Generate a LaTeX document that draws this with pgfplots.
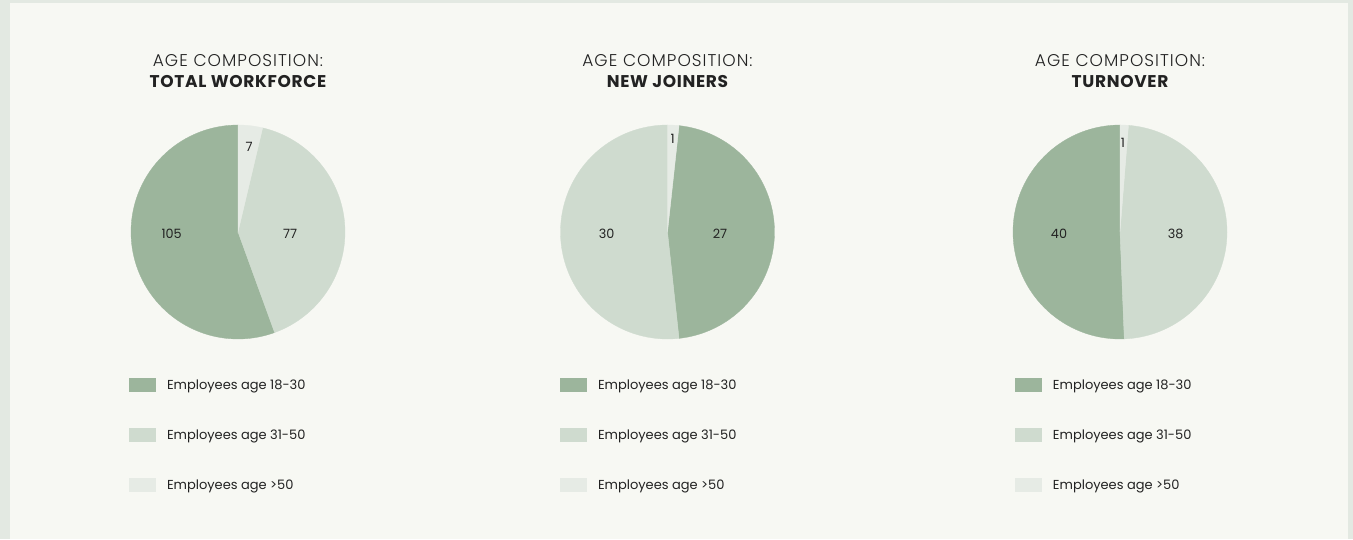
\documentclass[border=0pt]{standalone}
\usepackage{pgfplots}
\pgfplotsset{compat=1.18}
\usepackage{fontspec}
\setmainfont{Poppins}
\newfontfamily\lightfont{Poppins}[UprightFont=* Light, LetterSpace=6]
\newfontfamily\titlebold{Poppins}[UprightFont=* Bold, LetterSpace=4]
\definecolor{cA}{HTML}{9CB59C}
\definecolor{cB}{HTML}{CFDBCF}
\definecolor{cC}{HTML}{E6EBE5}
\definecolor{bgcard}{HTML}{F7F8F3}
\definecolor{bgborder}{HTML}{E3E9E2}
\definecolor{txt}{HTML}{222222}
% slice: colour, sum of values before it (clockwise from top), value, total
\newcommand\pieslice[4]{%
  \pgfmathsetmacro\pa{90-((#2)/(#4))*360}%
  \pgfmathsetmacro\pb{90-((#2+#3)/(#4))*360}%
  \edef\tmp{\noexpand\addplot[fill=#1, draw=#1, line width=0.3pt, domain=\pb:\pa, samples=90, variable=\noexpand\t] ({cos(\noexpand\t)},{sin(\noexpand\t)}) -- (axis cs:0,0) -- cycle;}%
  \tmp}
\pgfplotsset{pie/.style={
  x=107pt, y=107pt, xmin=-1, xmax=1, ymin=-1, ymax=1,
  hide axis, clip=false, anchor=center,
  legend image code/.code={\fill[##1, draw=none] (0pt,-7pt) rectangle (27pt,7pt);},
  legend cell align=left,
  legend style={anchor=north west, draw=none, fill=none,
    inner sep=0pt, outer sep=0pt, row sep=36pt, column sep=11pt,
    nodes={inner sep=0pt, text=txt},
    font=\fontsize{13}{15}\selectfont},
  legend entries={Employees age 18-30, Employees age 31-50, Employees age >50},
}}
\begin{document}
\begin{tikzpicture}
\useasboundingbox (0,0) rectangle (1353pt,539pt);
\fill[bgborder] (0,0) rectangle (1353pt,539pt);
\fill[bgcard] (10pt,0) rectangle (1348pt,536pt);
\tikzset{lab/.style={inner sep=0pt, text=txt, font=\fontsize{12.8}{14}\selectfont},
  t1/.style={inner sep=0pt, text=txt, font=\lightfont\fontsize{17}{20}\selectfont},
  t2/.style={inner sep=0pt, text=txt, font=\titlebold\fontsize{17}{20}\selectfont}}
% Total workforce
\begin{axis}[pie, at={(238pt,307pt)}, legend style={at={(-0.0093,-0.182)}}]
\pieslice{cA}{7+77}{105}{189}
\pieslice{cB}{7}{77}{189}
\pieslice{cC}{0}{7}{189}
\node[lab] at (axis cs:-0.62,-0.02) {105};
\node[lab] at (axis cs:0.486,-0.02) {77};
\node[lab] at (axis cs:0.103,0.794) {7};
\node[t1] at (axis cs:0,1.607) {AGE COMPOSITION:};
\node[t2] at (axis cs:0,1.411) {TOTAL WORKFORCE};
\end{axis}
% New joiners
\begin{axis}[pie, at={(667.5pt,307pt)}, legend style={at={(-0.0023,-0.182)}}]
\pieslice{cA}{1}{27}{58}
\pieslice{cB}{1+27}{30}{58}
\pieslice{cC}{0}{1}{58}
\node[lab] at (axis cs:-0.568,-0.02) {30};
\node[lab] at (axis cs:0.49,-0.02) {27};
\node[lab] at (axis cs:0.049,0.869) {1};
\node[t1] at (axis cs:0,1.607) {AGE COMPOSITION:};
\node[t2] at (axis cs:0,1.411) {NEW JOINERS};
\end{axis}
% Turnover
\begin{axis}[pie, at={(1120pt,307pt)}, legend style={at={(0.0093,-0.182)}}]
\pieslice{cA}{1+38}{40}{79}
\pieslice{cB}{1}{38}{79}
\pieslice{cC}{0}{1}{79}
\node[lab] at (axis cs:-0.57,-0.02) {40};
\node[lab] at (axis cs:0.52,-0.02) {38};
\node[lab] at (axis cs:0.028,0.835) {1};
\node[t1] at (axis cs:0,1.607) {AGE COMPOSITION:};
\node[t2] at (axis cs:0,1.411) {TURNOVER};
\end{axis}
\end{tikzpicture}
\end{document}
